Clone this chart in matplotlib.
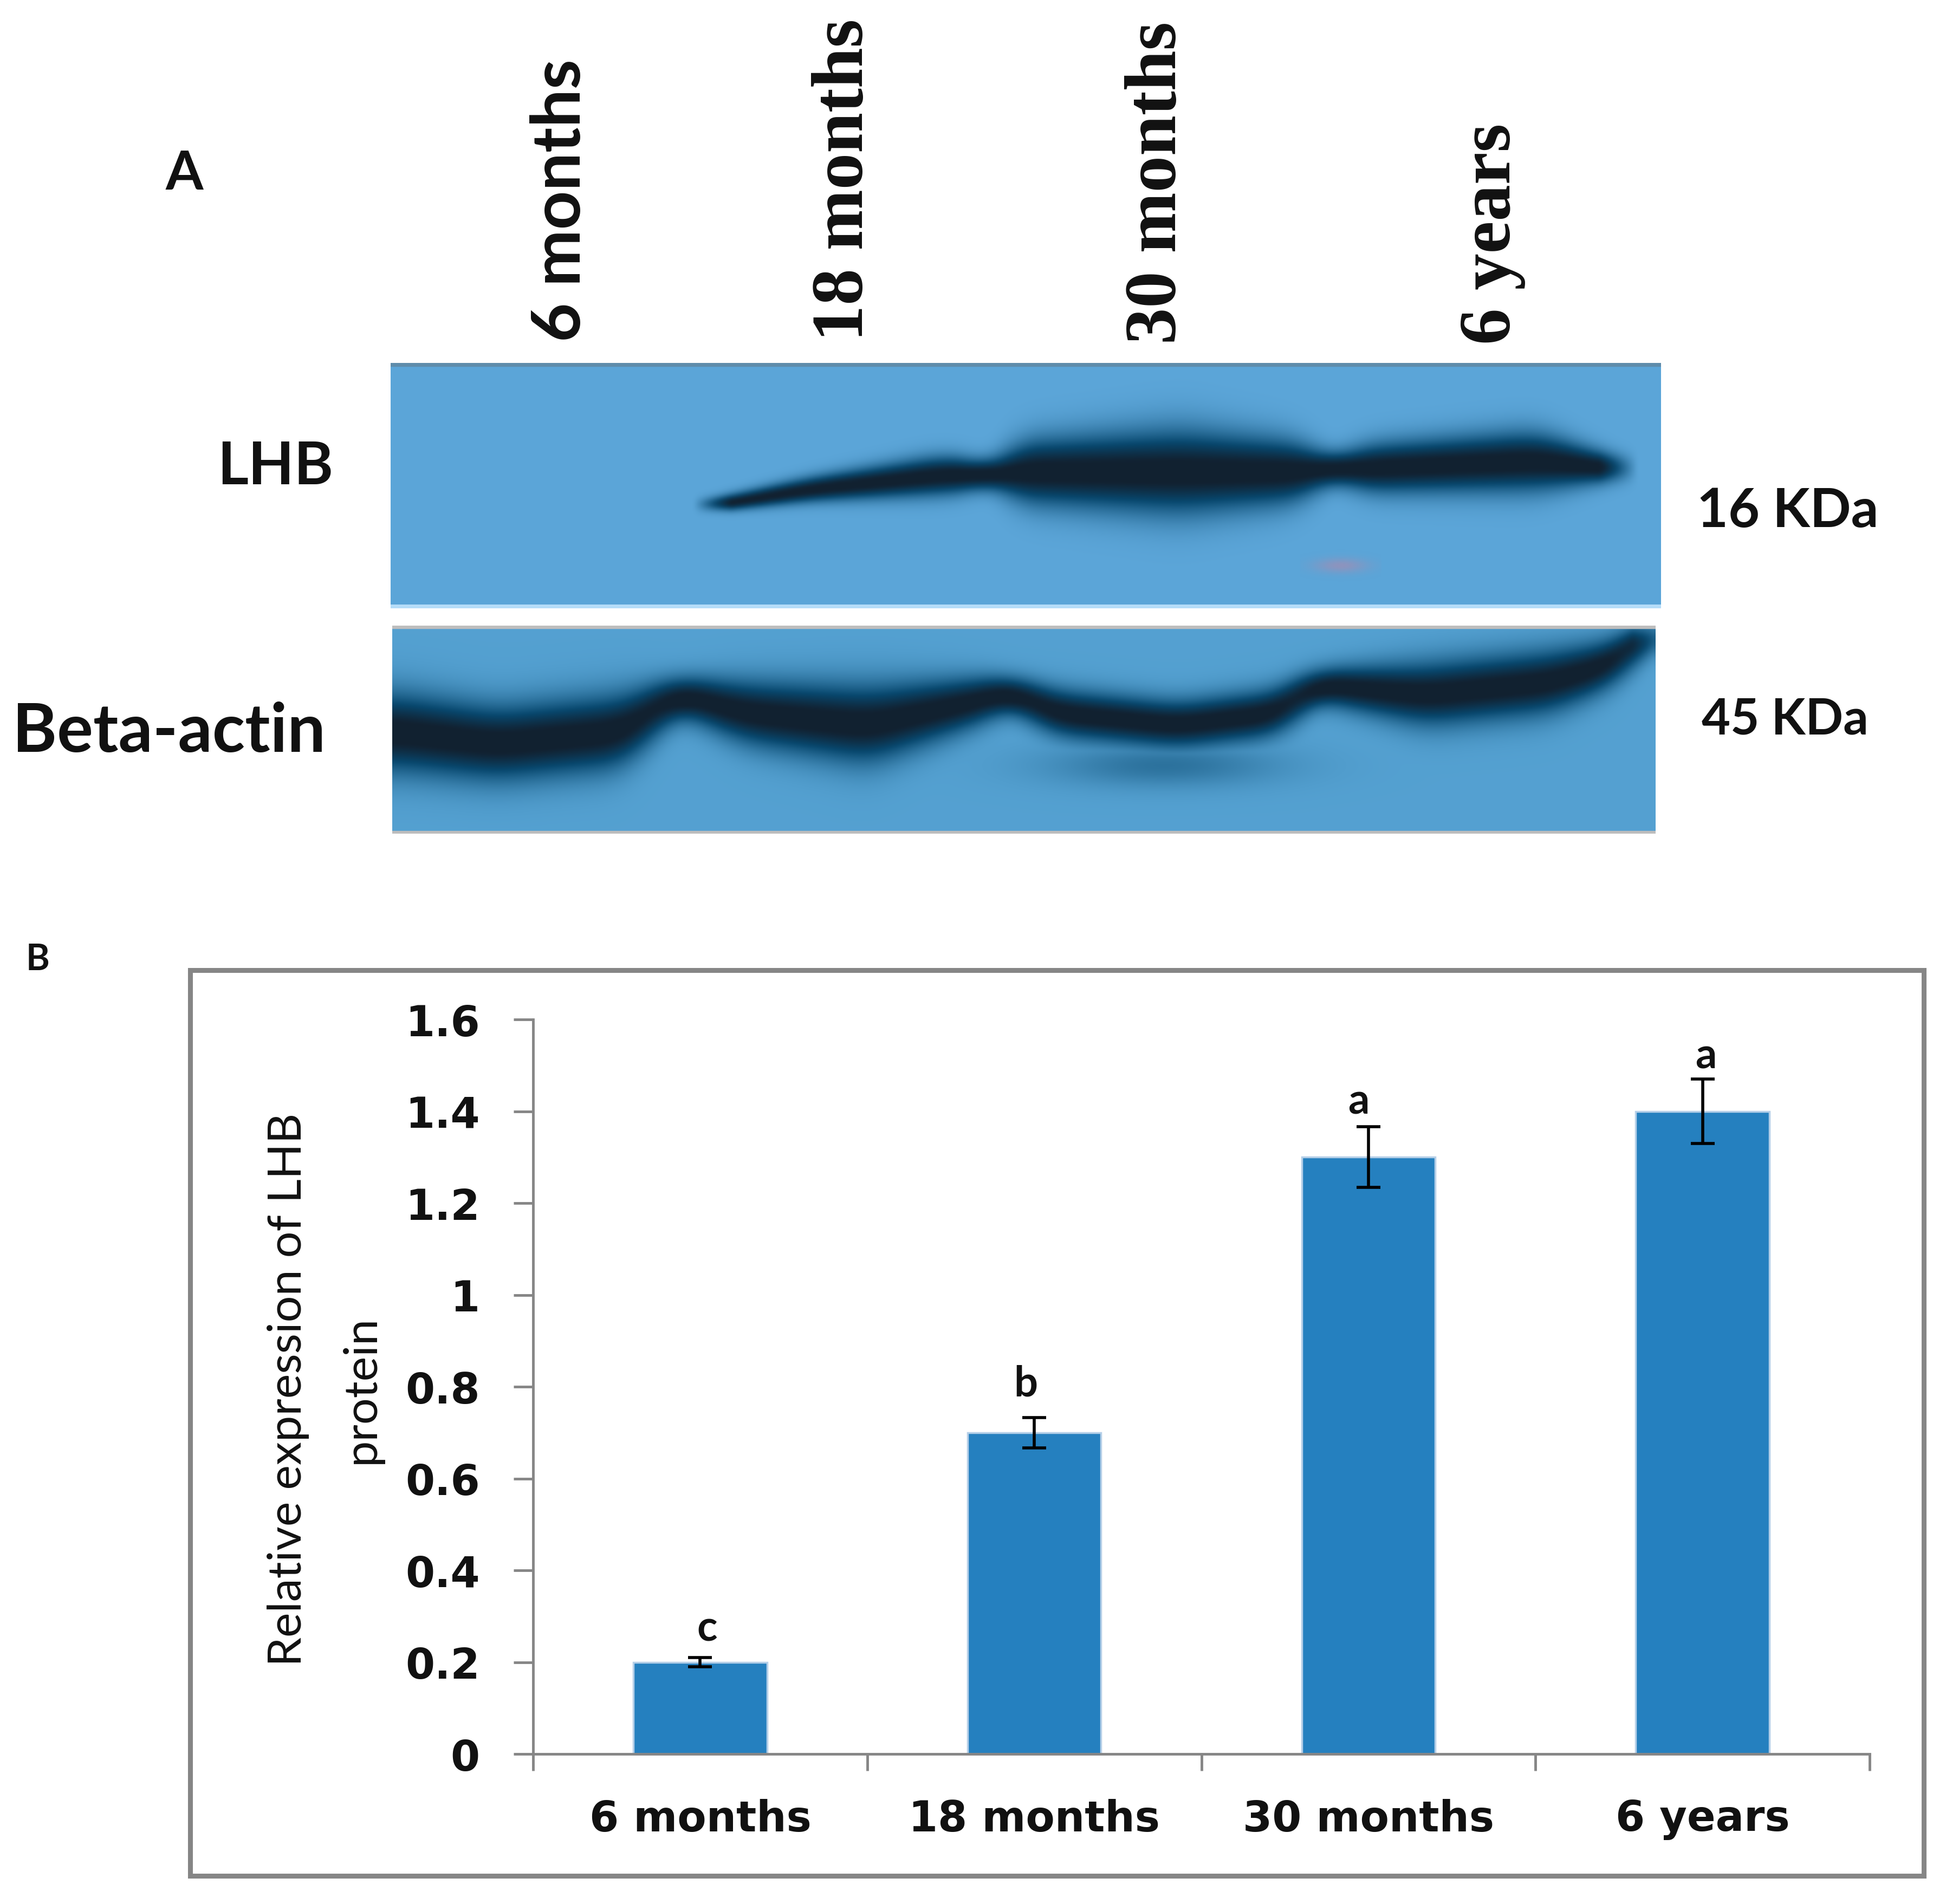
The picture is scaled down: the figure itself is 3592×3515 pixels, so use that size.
import numpy as np
import matplotlib
matplotlib.use("Agg")
import matplotlib.pyplot as plt
from matplotlib.patches import Rectangle

W = 3592
H = 3516
DPI = 100

categories = ["6 months", "18 months", "30 months", "6 years"]
values = [0.2, 0.7, 1.3, 1.4]
errors = [0.01, 0.033, 0.066, 0.07]
letters = ["c", "b", "a", "a"]
y_ticks = [0, 0.2, 0.4, 0.6, 0.8, 1, 1.2, 1.4, 1.6]
y_labels = ["0", "0.2", "0.4", "0.6", "0.8", "1", "1.2", "1.4", "1.6"]

# blot bands, in reference pixels: x, centre y, half height
lhb_x = [1310, 1490, 1740, 1810, 1835, 1870, 2180, 2400, 2460, 2520, 2840, 2990]
lhb_y = [935, 905, 878, 878, 878, 872, 872, 872, 866, 866, 852, 866]
lhb_h = [12, 22, 36, 30, 14, 56, 76, 56, 22, 44, 54, 22]
actin_x = [724, 916, 1146, 1249, 1375, 1604, 1810, 1867, 1947, 2176, 2360, 2429, 2635, 2864, 2978, 3050]
actin_y = [1352, 1375, 1352, 1283, 1317, 1340, 1294, 1278, 1317, 1340, 1317, 1265, 1283, 1260, 1226, 1168]
actin_h = [72, 68, 68, 36, 58, 72, 44, 32, 44, 44, 44, 32, 58, 58, 44, 24]


def px_axes(x0, y0, x1, y1):
    return fig.add_axes([x0 / W, 1 - y1 / H, (x1 - x0) / W, (y1 - y0) / H])


def blot(x0, y0, x1, y1, bx, by, bh, bg, extra=None):
    ax = px_axes(x0, y0, x1, y1)
    ax.axis("off")
    xs = np.linspace(x0, x1, 300)
    ys = np.linspace(y0, y1, 100)
    xx, yy = np.meshgrid(xs, ys)
    cy = np.interp(xs, bx, by)
    ch = np.interp(xs, bx, bh)
    kernel = np.ones(9) / 9
    cy = np.convolve(np.pad(cy, 4, mode="edge"), kernel, mode="valid")
    ch = np.convolve(np.pad(ch, 4, mode="edge"), kernel, mode="valid")
    ink = np.exp(-np.abs((yy - cy) / ch) ** 2)
    ink[:, (xs < bx[0]) | (xs > bx[-1])] = 0
    if extra is not None:
        ink = np.maximum(ink, extra(xx, yy))
    ink = np.array([np.convolve(np.pad(r, 4, mode="edge"), kernel, mode="valid") for r in ink])
    ink = np.clip(ink * 1.08, 0, 1)
    stops = [0, 0.62, 1]
    rgb = np.array([bg, [0.03, 0.28, 0.43], [0.07, 0.13, 0.19]])
    img = np.dstack([np.interp(ink, stops, rgb[:, i]) for i in range(3)])
    ax.imshow(img, extent=(x0, x1, y1, y0), aspect="auto", interpolation="bicubic")
    return ax


fig = plt.figure(figsize=(W / DPI, H / DPI), dpi=DPI, facecolor="white")

# panel A
top = blot(721, 671, 3066, 1117, lhb_x, lhb_y, lhb_h, [0.36, 0.65, 0.85])
top.add_patch(Rectangle((721, 671), 2345, 6, color="#5f8cab"))
spot_x, spot_y = np.meshgrid(np.linspace(2400, 2550, 40), np.linspace(1010, 1080, 20))
spot = np.zeros((20, 40, 4))
spot[..., :3] = [0.80, 0.50, 0.62]
spot[..., 3] = 0.45 * np.exp(-((spot_x - 2475) / 50) ** 2 - ((spot_y - 1045) / 14) ** 2)
top.imshow(spot, extent=(2400, 2550, 1080, 1010), aspect="auto", interpolation="bicubic")
top.set_xlim(721, 3066)
top.set_ylim(1117, 671)
fig.add_artist(Rectangle((721 / W, 1 - 1124 / H), 2345 / W, 7 / H, transform=fig.transFigure,
                         color="#b5dcf8", lw=0))
smudge = lambda xx, yy: 0.3 * np.exp(-((xx - 2150) / 210) ** 2 - ((yy - 1415) / 40) ** 2)
low = blot(724, 1156, 3056, 1540, actin_x, actin_y, actin_h, [0.33, 0.63, 0.82], smudge)
low.add_patch(Rectangle((724, 1156), 2332, 5, color="#bdbdbd"))
low.add_patch(Rectangle((724, 1535), 2332, 5, color="#bdbdbd"))

sans = ["Lato", "DejaVu Sans"]
serif = ["Liberation Serif", "DejaVu Serif"]


def label(x, y, s, size, **kw):
    fig.text(x / W, 1 - y / H, s, fontsize=size, ha="center", va="center", color="#111111", **kw)


label(340, 322, "A", 72, family=sans, weight="bold")
label(70, 1772, "B", 48, family=sans, weight="bold")
label(508, 862, "LHB", 79, family=sans, weight="bold")
label(312, 1352, "Beta-actin", 90, family=sans, weight="bold")
label(3300, 945, "16 KDa", 72, family=sans, weight="bold")
label(3295, 1330, "45 KDa", 66, family=sans, weight="bold")
label(1035, 370, "6 months", 90, family=sans, weight="bold", rotation=90)
label(1559, 332, "18 months", 97, family=serif, weight="bold", rotation=90)
label(2137, 337, "30 months", 97, family=serif, weight="bold", rotation=90)
label(2755, 432, "6 years", 97, family=serif, weight="bold", rotation=90)

# frame around panel B
fig.add_artist(Rectangle((351 / W, 1 - 3464 / H), (3551 - 351) / W, (3464 - 1792) / H,
                         transform=fig.transFigure, fill=False, ec="#868686", lw=6.5))

# panel B
ax = px_axes(984, 1883, 3451, 3239)
x = np.arange(4) + 0.5
ax.bar(x, values, width=0.4, color="#2580bf", edgecolor="#b5cfe8", linewidth=2.5)
ax.errorbar(x, values, yerr=errors, fmt="none", ecolor="black", elinewidth=4, capsize=16, capthick=4)
ax.set_xlim(0, 4)
ax.set_ylim(0, 1.6)
ax.set_yticks(y_ticks)
ax.set_yticklabels(y_labels, family="DejaVu Sans", weight="bold", fontsize=56, color="#111111")
ax.set_xticks([0, 1, 2, 3, 4])
ax.set_xticklabels([])
ax.tick_params(axis="y", length=26, width=3.5, color="#868686", pad=45)
ax.tick_params(axis="x", length=22, width=3.5, color="#868686")
for s in ["top", "right"]:
    ax.spines[s].set_visible(False)
for s in ["left", "bottom"]:
    ax.spines[s].set_color("#868686")
    ax.spines[s].set_linewidth(3.5)
for xi, c in zip(x, categories):
    ax.text(xi, -0.142, c, ha="center", va="center", family="DejaVu Sans", weight="bold",
            fontsize=56, color="#111111", clip_on=False)
letter_dx = [0.02, -0.025, -0.03, 0.01]
letter_dy = [0.063, 0.074, 0.055, 0.05]
for xi, v, e, t, dx, dy in zip(x, values, errors, letters, letter_dx, letter_dy):
    ax.text(xi + dx, v + e + dy, t, ha="center", va="center", family=sans, weight="bold",
            fontsize=56, color="#111111")

label(532, 2565, "Relative expression of LHB", 62, family=sans, rotation=90)
label(667, 2565, "protein", 62, family=sans, rotation=90)

fig.savefig("out.png", dpi=DPI)
